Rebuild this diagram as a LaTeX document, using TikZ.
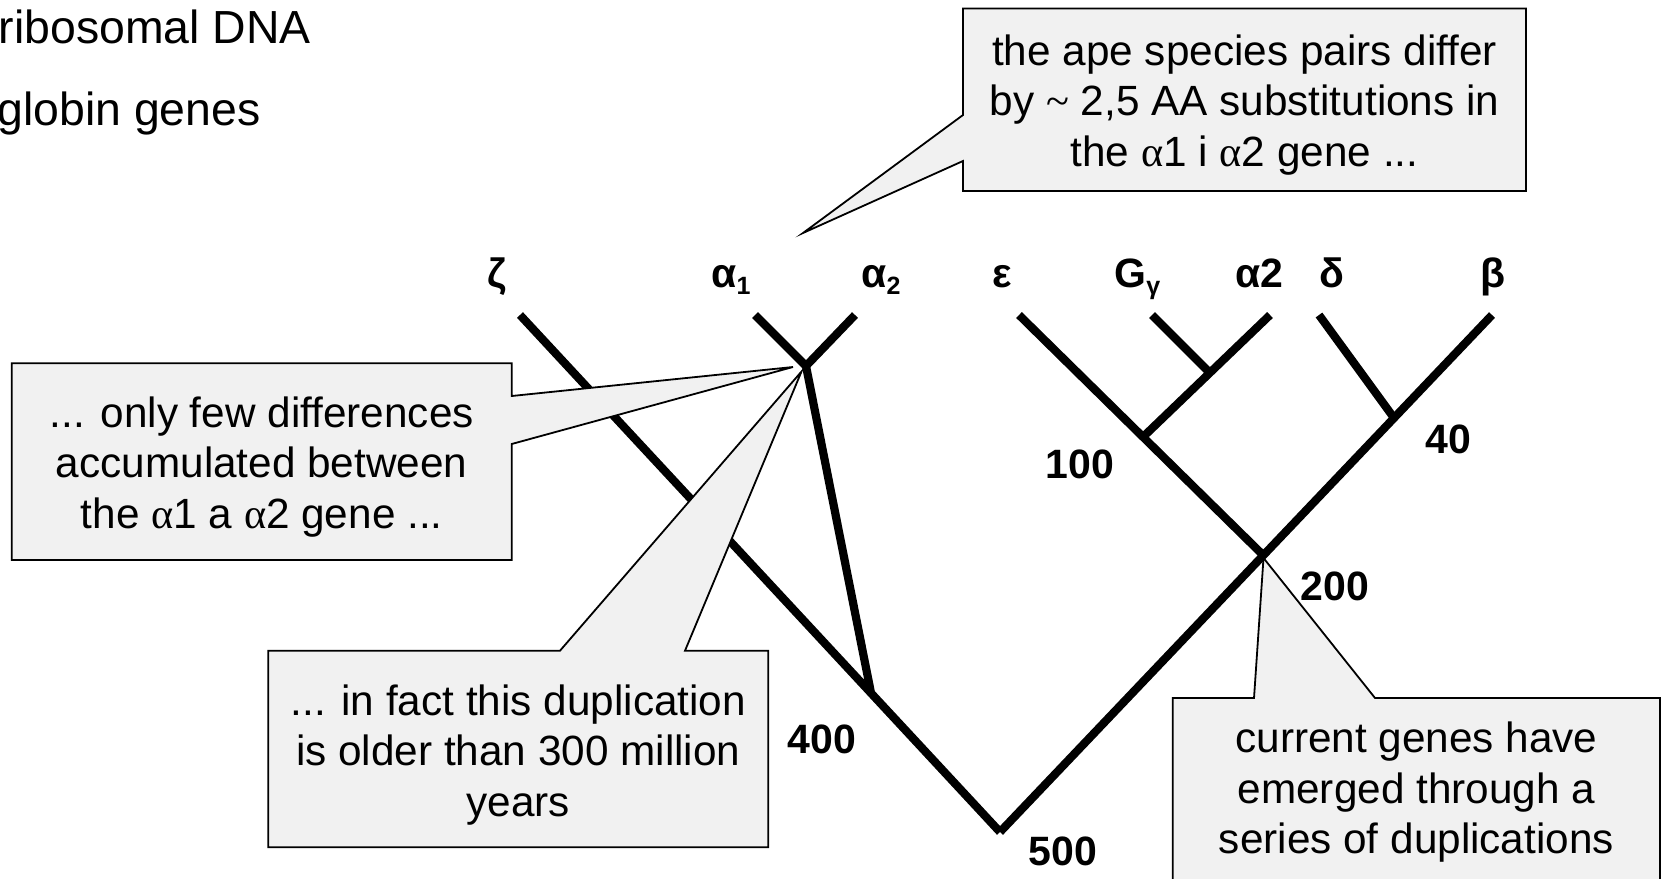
\documentclass[tikz,border=0pt]{standalone}
\usepackage{fontspec}
\setmainfont{Liberation Sans}
\newfontfamily\symfont{Liberation Serif}
\definecolor{calloutfill}{RGB}{241,241,241}
% centred multi-line text whose baseline is that of its first line
\newcommand\cblines[1]{\begin{tabular}[t]{@{}c@{}}#1\end{tabular}}
\newcommand\lsub[1]{\raisebox{-3.5pt}{\fontsize{12.5}{14}\selectfont #1}}
\newcommand\sa{{\symfont α}}
\tikzset{
  branch/.style={line width=4.1pt, line cap=butt},
  callout/.style={draw=black, line width=0.9pt, fill=calloutfill, line join=miter},
  ctext/.style={font=\fontsize{21.15}{25.25}\selectfont, inner sep=0pt, anchor=base},
  glabel/.style={font=\bfseries\fontsize{20.5}{24}\selectfont, inner sep=0pt, anchor=base west},
  slide/.style={font=\fontsize{23.2}{27}\selectfont, inner sep=0pt, anchor=base west}
}
\begin{document}
\begin{tikzpicture}[x=0.5pt,y=-0.5pt]
\useasboundingbox (0,0) rectangle (1663,878);
\clip (0,0) rectangle (1663,878);

% slide text
\node[slide] (rdna) at (-1.5,43.3) {ribosomal DNA};
\node[slide] (glob) at (-3,125) {globin genes};

% tree: tips, internal nodes
\coordinate (tz)  at (520,315);
\coordinate (ta1) at (755,315);
\coordinate (ta2) at (855,315);
\coordinate (na)  at (806,366);
\coordinate (n400) at (871,693);
\coordinate (n500) at (1000,832);
\coordinate (te)  at (1019,315);
\coordinate (n200) at (1263,555);
\coordinate (n100) at (1143,437);
\coordinate (tg)  at (1152,315);
\coordinate (ng)  at (1210,373);
\coordinate (tA2) at (1270,315);
\coordinate (td)  at (1319,315);
\coordinate (n40) at (1394,418);
\coordinate (tb)  at (1492,315);

% branches
\draw[branch] (tz) -- (n500);
\draw[branch] (n500) -- (tb);
\draw[branch] (ta1) -- (na);
\draw[branch] (ta2) -- (na);
\draw[branch] (na) -- (n400);
\draw[branch] (te) -- (n200);
\draw[branch] (tA2) -- (n100);
\draw[branch] (tg) -- (ng);
\draw[branch] (td) -- (n40);

% gene labels
\node[glabel] (lz)  at (487,287) {ζ};
\node[glabel] (la1) at (711,287) {α\lsub{1}};
\node[glabel] (la2) at (861,287) {α\lsub{2}};
\node[glabel] (le)  at (992,287) {ε};
\node[glabel] (lg)  at (1114,287) {G\lsub{γ}};
\node[glabel] (lA2) at (1235,287) {α2};
\node[glabel] (ld)  at (1319,287) {δ};
\node[glabel] (lb)  at (1480,287) {β};

% ages (million years)
\node[glabel] (a100) at (1045,478) {100};
\node[glabel] (a40)  at (1425,453) {40};
\node[glabel] (a400) at (787,753) {400};
\node[glabel] (a500) at (1028,865) {500};
\node[glabel] (a200) at (1300,600) {200};

% callout tips
\coordinate (tcTip) at (803,233);
\coordinate (lcTip) at (793,367);
\coordinate (blTip) at (801.5,371.5);
\coordinate (brTip) at (1263.5,558);

% callout: ape species pairs
\path[callout] (963,8.5) -- (1526,8.5) -- (1526,191) -- (963,191) -- (963,161)
  -- (tcTip) -- (963,115) -- cycle;
\node[ctext] (tctext) at (1244.5,65.3) {\cblines{the ape species pairs differ\\
  by {\symfont\textasciitilde} 2,5 AA substitutions in\\
  the \sa1 i \sa2 gene ...}};

% callout: few differences
\path[callout] (11.7,363.3) -- (511.7,363.3) -- (511.7,396) -- (lcTip)
  -- (511.7,444) -- (511.7,560) -- (11.7,560) -- cycle;
\node[ctext] (lctext) at (261.7,427.3) {\cblines{... only few differences\\
  accumulated between\\
  the \sa1 a \sa2 gene ...}};

% callout: duplication age
\path[callout] (268.3,650.7) -- (560,650.7) -- (blTip) -- (685,650.7)
  -- (768.3,650.7) -- (768.3,847.3) -- (268.3,847.3) -- cycle;
\node[ctext] (bltext) at (518.3,715) {\cblines{... in fact this duplication\\
  is older than 300 million\\
  years}};

% callout: series of duplications
\path[callout] (1172.7,698) -- (1254,698) -- (brTip) -- (1375,698)
  -- (1660,698) -- (1660,900) -- (1172.7,900) -- cycle;
\node[ctext] (brtext) at (1416.4,752.7) {\cblines{current genes have\\
  emerged through a\\
  series of duplications}};
\end{tikzpicture}
\end{document}
